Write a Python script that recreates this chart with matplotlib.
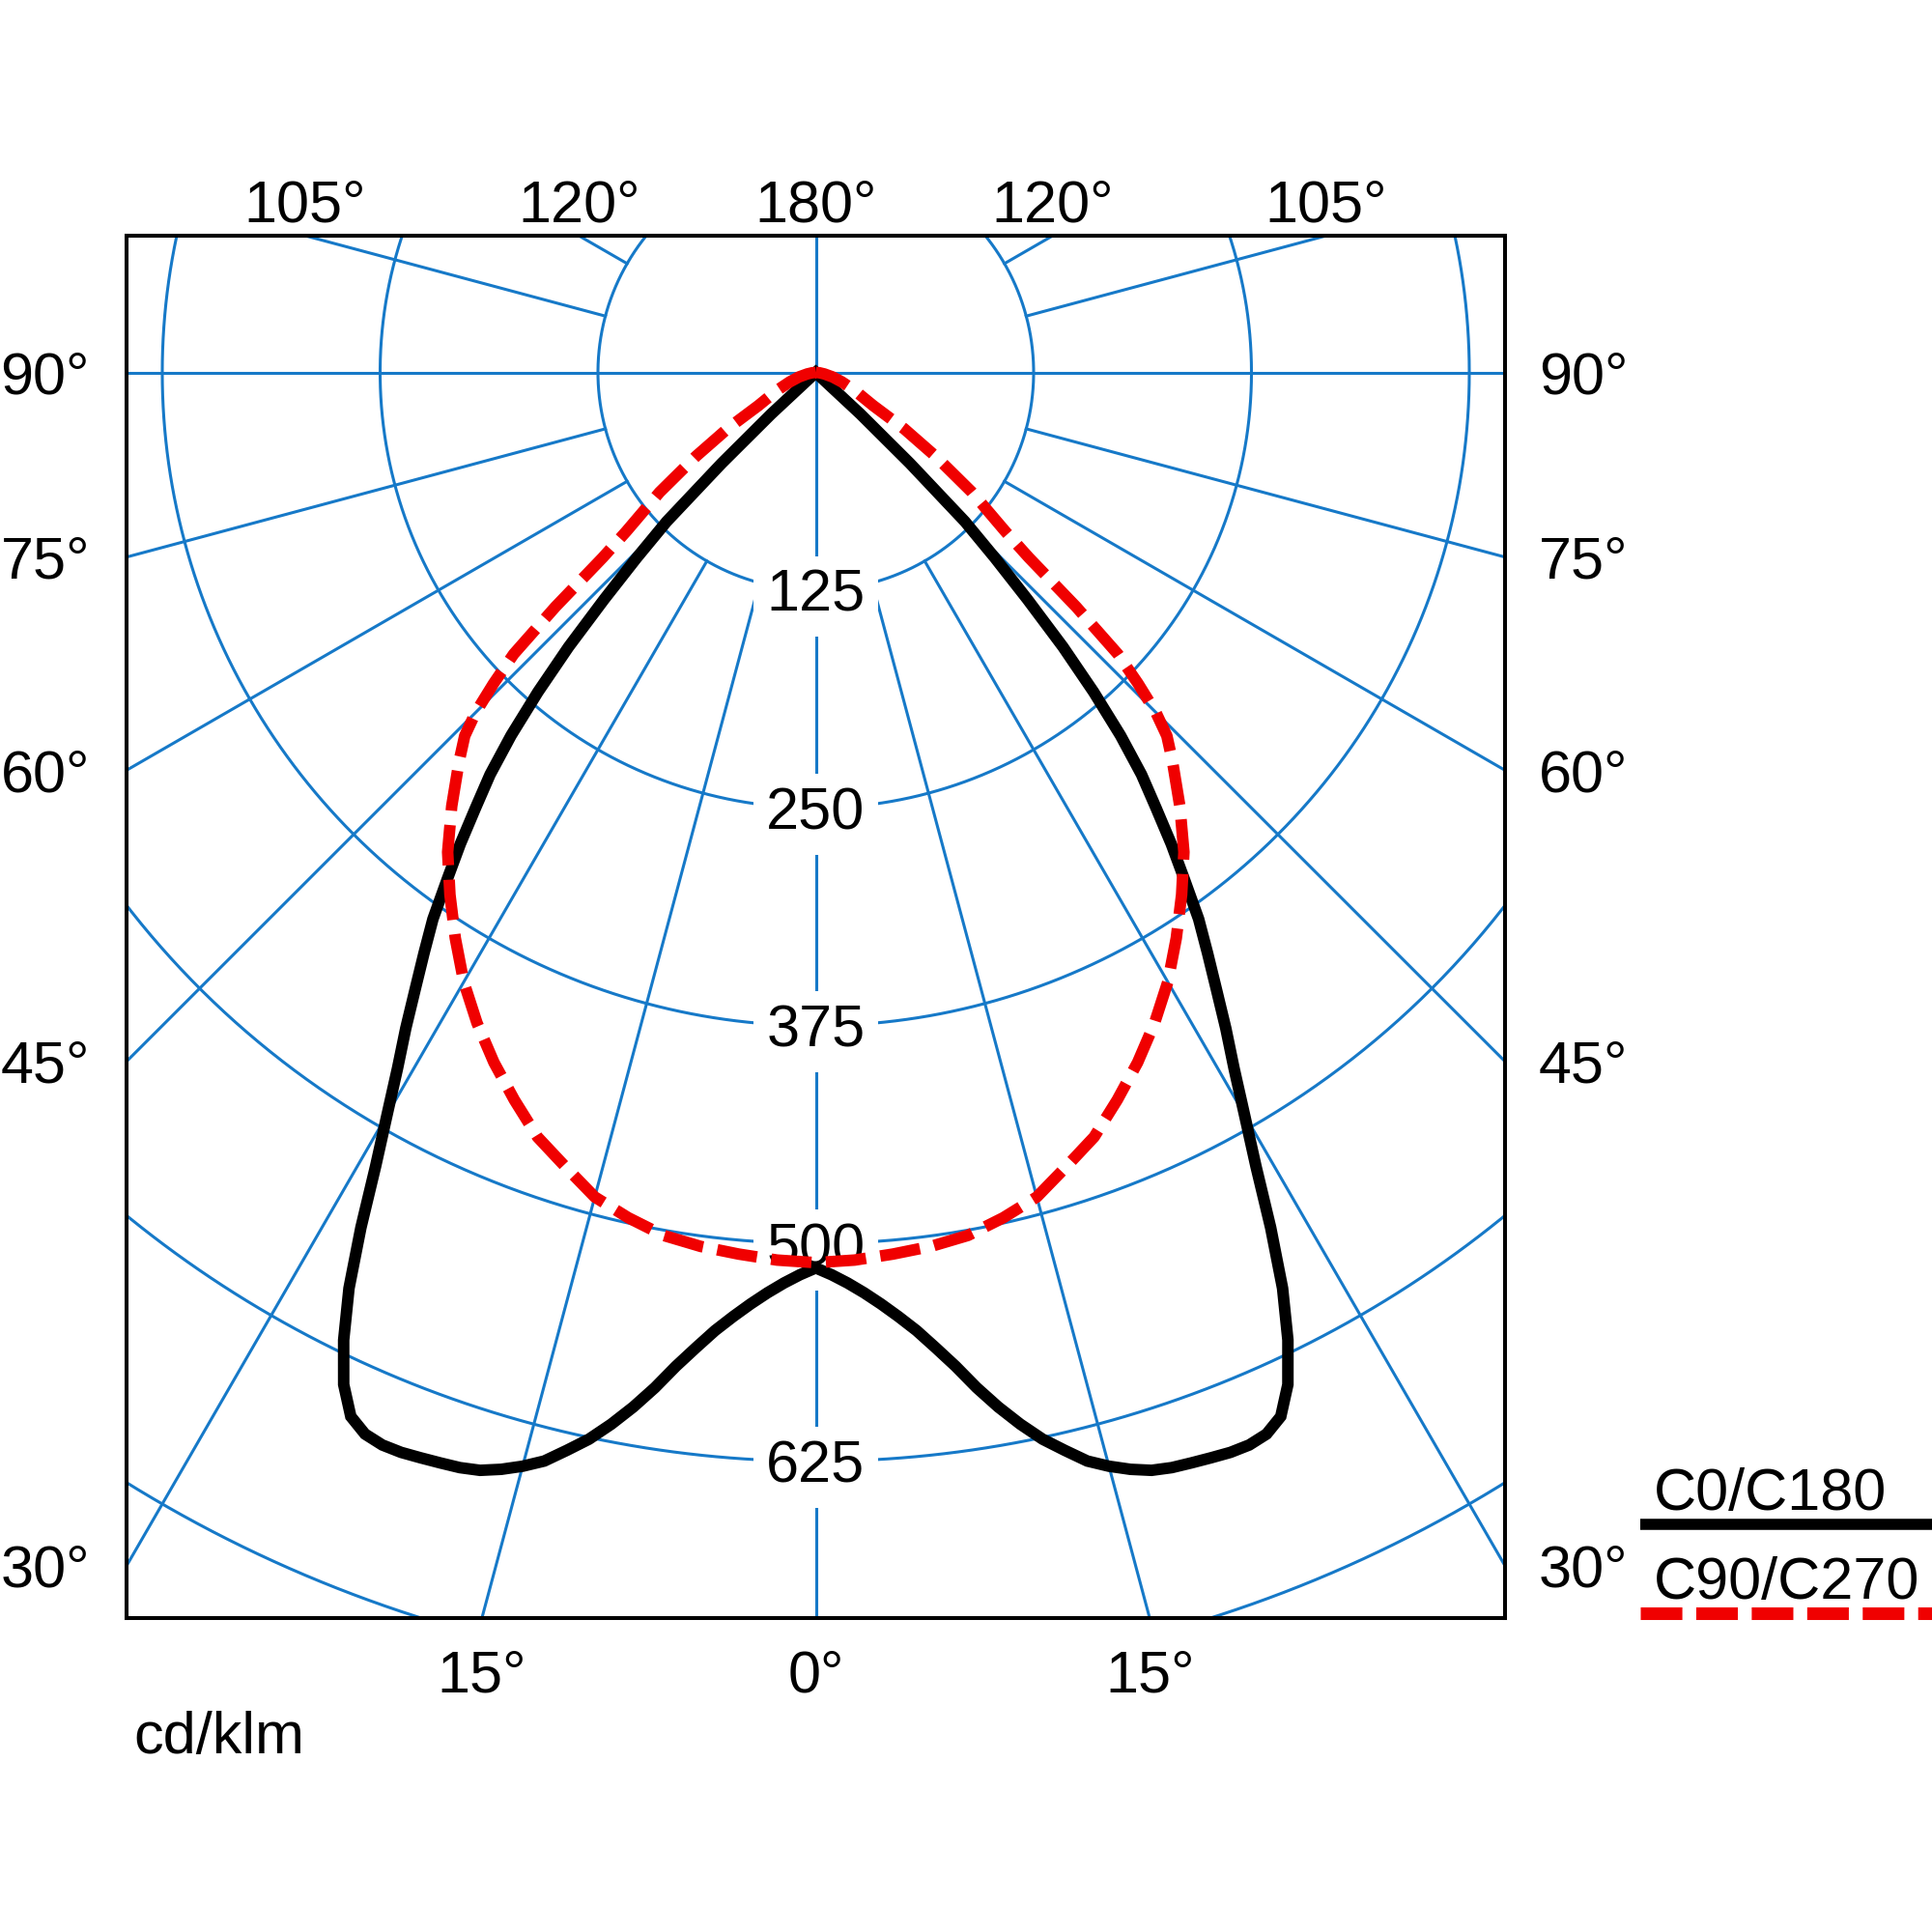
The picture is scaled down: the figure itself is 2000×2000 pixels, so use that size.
import numpy as np
import matplotlib
matplotlib.use('Agg')
import matplotlib.pyplot as plt
from matplotlib.patches import Polygon
from matplotlib.lines import Line2D

plt.rcParams['font.family'] = ['Liberation Sans', 'DejaVu Sans']

# ---------------- data (cd/klm vs gamma angle from nadir, symmetric halves) ----
gamma_c0 = [0, 1, 2, 3, 4, 5, 6, 7, 8, 9, 10, 11, 12, 13, 14, 15, 16, 17, 18, 19,
            20, 21, 22, 23, 24, 25, 26, 27, 28, 29, 30, 31, 32, 33, 34, 35, 36,
            37, 38, 39, 40, 41, 42, 43, 44, 45, 46, 47, 48]
int_c0 = [514, 518, 523, 529, 536, 544, 553, 564, 576, 590, 603, 615, 626, 635,
          644, 650, 655, 659, 661, 662, 663, 664, 664, 662, 656, 641, 618, 590,
          556, 521, 492, 466, 444, 422, 402, 383, 360, 339, 317, 297, 272, 243,
          212, 178, 148, 121, 75, 35, 0]

gamma_c90 = [0, 2.5, 5, 7.5, 10, 12.5, 15, 17.5, 20, 22.5, 25, 27.5, 30, 32.5,
             35, 37.5, 40, 42.5, 44, 45, 46, 47, 48, 49, 50, 52.5, 55, 57.5, 60,
             62.5, 65, 70, 75, 80, 85, 90]
int_c90 = [511, 510, 508, 506, 503, 497, 490, 478, 467, 452, 437, 421, 404, 385,
           366, 347, 325, 303, 290, 276, 257, 237, 201, 162, 142, 113, 84, 60, 38,
           30, 25, 16, 10, 5, 2, 0]

ring_values = [125, 250, 375, 500, 625, 750, 875]
ring_labels = ['125', '250', '375', '500', '625']
bottom_angles = [-15, 0, 15]
side_angles = [30, 45, 60, 75, 90]
top_angles = [-105, -120, 180, 120, 105]
series_names = ['C0/C180', 'C90/C270']
unit_label = 'cd/klm'

# ---------------- styling ----------------
GRID = '#1679c8'
RED = '#f00000'
FS = 44
PX = 72 / 100.0  # points per pixel at dpi 100
XMIN, XMAX, YMIN, YMAX = -395.5, 395.5, -715.0, 78.5

fig = plt.figure(figsize=(20, 20), dpi=100)
ax = fig.add_axes([131 / 2000, 1 - 1675 / 2000, 1427 / 2000, 1431 / 2000])
ax.set_xlim(XMIN, XMAX)
ax.set_ylim(YMIN, YMAX)
ax.set_xticks([])
ax.set_yticks([])
for s in ax.spines.values():
    s.set_linewidth(2.9)
    s.set_color('black')
    s.set_zorder(10)

# rings
t = np.linspace(0, 2 * np.pi, 1441)
for r in ring_values:
    ax.plot(r * np.sin(t), -r * np.cos(t), color=GRID, lw=2.2, zorder=1)

# radial lines
for a in range(0, 360, 15):
    r0 = 0 if a % 90 == 0 else ring_values[0]
    th = np.deg2rad(a)
    ax.plot([r0 * np.sin(th), 1200 * np.sin(th)],
            [-r0 * np.cos(th), -1200 * np.cos(th)], color=GRID, lw=2.2, zorder=1)

# ring labels
for lab, r in zip(ring_labels, ring_values):
    ax.text(0, -r, lab, ha='center', va='center_baseline', fontsize=FS, zorder=3,
            bbox=dict(boxstyle='square,pad=0.22', fc='white', ec='none'))

# curves
g = np.deg2rad(np.array(gamma_c0, float))
I = np.array(int_c0, float)
th = np.concatenate([-g[::-1], g[1:-1]])
rr = np.concatenate([I[::-1], I[1:-1]])
poly = Polygon(np.column_stack([rr * np.sin(th), -rr * np.cos(th)]), closed=True,
               fill=False, ec='black', lw=8.6, joinstyle='miter', zorder=5)
ax.add_patch(poly)

g2 = np.deg2rad(np.array(gamma_c90, float))
I2 = np.array(int_c90, float)
th2 = np.concatenate([-g2[::-1], g2[1:]])
rr2 = np.concatenate([I2[::-1], I2[1:]])
ax.plot(rr2 * np.sin(th2), -rr2 * np.cos(th2), color=RED, lw=8.6,
        linestyle=(0, (3.5, 1.25)), dash_capstyle='butt', zorder=6)


# angle labels where lines meet the frame
def edge_hit(deg):
    a = np.deg2rad(deg)
    dx, dy = np.sin(a), -np.cos(a)
    ts = []
    if dx > 1e-9:
        ts.append((XMAX / dx, 'right'))
    if dx < -1e-9:
        ts.append((XMIN / dx, 'left'))
    if dy > 1e-9:
        ts.append((YMAX / dy, 'top'))
    if dy < -1e-9:
        ts.append((YMIN / dy, 'bottom'))
    tt, side = min(ts)
    return tt * dx, tt * dy, side


all_angles = bottom_angles + side_angles + [-a for a in side_angles] + top_angles
for deg in all_angles:
    x, y, side = edge_hit(deg)
    lab = f'{abs(deg)}°'
    if side == 'top':
        ax.annotate(lab, (x, YMAX), xytext=(0, 15 * PX), textcoords='offset points',
                    ha='center', va='baseline', fontsize=FS, annotation_clip=False)
    elif side == 'bottom':
        ax.annotate(lab, (x, YMIN), xytext=(0, -32 * PX), textcoords='offset points',
                    ha='center', va='top', fontsize=FS, annotation_clip=False)
    elif side == 'left':
        ax.annotate(lab, (XMIN, y), xytext=(-38 * PX, 0), textcoords='offset points',
                    ha='right', va='center_baseline', fontsize=FS, annotation_clip=False)
    else:
        ax.annotate(lab, (XMAX, y), xytext=(35 * PX, 0), textcoords='offset points',
                    ha='left', va='center_baseline', fontsize=FS, annotation_clip=False)

# unit label
fig.text(138 / 2000, 1 - 1815 / 2000, unit_label, fontsize=FS, ha='left', va='baseline')

# legend
fig.text(1712 / 2000, 1 - 1563 / 2000, series_names[0], fontsize=FS, ha='left', va='baseline')
fig.add_artist(Line2D([1698 / 2000, 1.02], [1 - 1577.5 / 2000] * 2, transform=fig.transFigure,
                      color='black', lw=8.3, solid_capstyle='butt'))
fig.text(1712 / 2000, 1 - 1655 / 2000, series_names[1], fontsize=FS, ha='left', va='baseline')
fig.add_artist(Line2D([1698 / 2000, 1.02], [1 - 1669.5 / 2000] * 2, transform=fig.transFigure,
                      color=RED, lw=9.4, linestyle=(0, (3.3, 1.1)), dash_capstyle='butt'))

fig.savefig('out.png', dpi=100, facecolor='white')
